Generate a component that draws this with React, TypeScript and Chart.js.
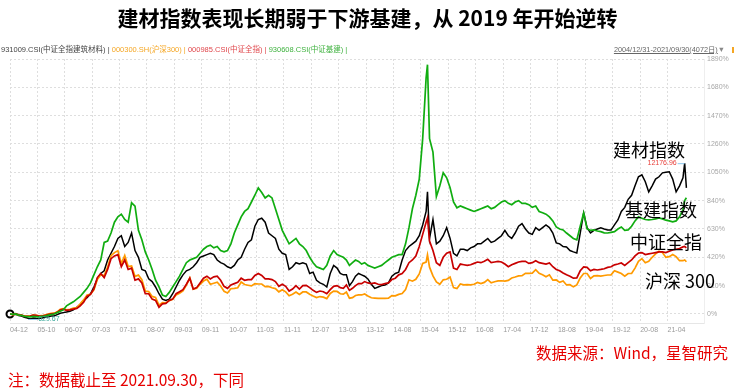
import React, { useEffect, useRef } from "react";
import { Chart, registerables } from "chart.js";
Chart.register(...registerables);

// x-axis tick labels (YY-MM)
const tickLabels = [
  "04-12", "05-10", "06-07", "07-03", "07-11", "08-07", "09-03", "09-11", "10-07",
  "11-03", "11-11", "12-07", "13-03", "13-12", "14-08", "15-04", "15-12", "16-08",
  "17-04", "17-12", "18-08", "19-04", "19-12", "20-08", "21-04",
];
const yTicks = [0, 210, 420, 630, 840, 1050, 1260, 1470, 1680, 1890];

// month-end observations from 2004-12 to 2021-09, plus two intra-month extremes
const firstMonth = "2004-12";
const lastMonth = "2021-09";
const extraDates = ["2015-06-12", "2021-09-15"];

// 931009.CSI 中证全指建筑材料 (cumulative %, base 2004-12-31)
const buildingMaterials = [
  0,
  -5, -3, -12, -15, -25, -30, -37.033, -30, -32, -33, -30, -25,
  -20, -15, -15, -5, 5, 10, 15, 20, 30, 50, 70, 100,
  120, 150, 200, 260, 300, 320, 400, 450, 500, 560, 580, 500,
  530, 600, 470, 420, 330, 320, 260, 240, 200, 150, 110, 100,
  110, 150, 200, 250, 290, 320, 330, 350, 380, 420, 430, 440,
  450, 440, 400, 380, 370, 350, 340, 360, 400, 420, 480, 530,
  550, 650, 700, 710, 680, 600, 580, 560, 480, 450, 440, 330,
  350, 380, 370, 380, 370, 300, 310, 250, 230, 220, 200, 300,
  360, 340, 300, 290, 290, 210, 240, 280, 300, 290, 280, 260,
  220, 190, 200, 210, 215, 230, 280, 300, 310, 400, 470, 500,
  520, 540, 580, 660, 760, 905, 560, 700, 520, 540, 580, 640, 560,
  450, 430, 480, 480, 470, 490, 500, 520, 520, 540, 560, 530,
  540, 560, 580, 620, 580, 560, 600, 650, 670, 630, 600, 590,
  640, 620, 640, 660, 640, 600, 527, 520, 500, 497, 470, 460,
  452, 600, 749, 640, 601, 620, 630, 638, 630, 623, 623, 660,
  697, 760, 790, 850, 880, 950, 1017, 1031, 980, 905, 950, 1000,
  1017, 1046, 1050, 1054, 1000, 905, 950, 1009, 1117.696, 935,
];

// 930608.CSI 中证基建
const infrastructure = [
  0,
  -3, 0, -8, -10, -18, -20, -22, -18, -20, -22, -18, -15,
  -10, -5, 0, 10, 20, 30, 60, 75, 90, 110, 130, 160,
  190, 230, 290, 350, 400, 530, 540, 600, 680, 720, 740, 700,
  680, 824, 800, 620, 550, 460, 400, 330, 250, 200, 140, 130,
  160, 200, 240, 280, 330, 380, 400, 410, 420, 450, 480, 500,
  510, 490, 500, 470, 460, 470, 520, 600, 660, 720, 760, 780,
  830, 880, 935, 900, 860, 880, 860, 780, 700, 620, 570, 520,
  540, 560, 520, 500, 470, 420, 380, 350, 340, 330, 360, 430,
  470, 440, 430, 420, 400, 360, 380, 400, 390, 370, 380, 360,
  350, 340, 350, 360, 380, 400, 420, 430, 440, 440, 520, 640,
  780, 880, 1000, 1300, 1750, 1848, 1300, 1200, 870, 950, 1046, 1009, 935,
  831, 787, 800, 790, 780, 770, 760, 770, 780, 790, 800, 780,
  790, 810, 830, 840, 820, 810, 830, 840, 820, 820, 810, 790,
  800, 760, 750, 740, 720, 690, 645, 630, 623, 600, 580, 560,
  549, 650, 749, 630, 620, 623, 615, 610, 601, 600, 605, 610,
  630, 645, 620, 623, 650, 690, 720, 710, 700, 697, 700, 705,
  712, 705, 695, 690, 683, 690, 720, 772, 840, 861,
];

// 000985.CSI 中证全指
const csiAllShare = [
  0,
  -5, 2, -7, -9, -17, -17, -15, -9, -11, -16, -16, -11,
  -4, 0, 2, 12, 30, 36, 27, 30, 36, 41, 60, 87,
  130, 145, 185, 270, 300, 270, 330, 410, 430, 440, 350, 400,
  330, 340, 250, 260, 230, 150, 150, 110, 100, 50, 75, 78,
  100, 110, 150, 165, 180, 220, 265, 185, 195, 230, 265, 280,
  260, 275, 280, 250, 205, 190, 215, 225, 235, 265, 250, 255,
  255, 285, 300, 285, 260, 260, 255, 240, 205, 220, 205, 170,
  185, 210, 185, 210, 212, 195, 175, 160, 170, 165, 150, 180,
  205, 210, 195, 190, 215, 175, 190, 210, 225, 225, 240, 230,
  225, 230, 220, 218, 225, 230, 255, 265, 290, 300, 330, 380,
  400, 430, 500, 590, 680, 712, 540, 470, 380, 360, 420, 450, 460,
  340, 330, 370, 365, 360, 365, 375, 385, 380, 390, 405, 380,
  385, 390, 385, 370, 350, 365, 375, 385, 390, 390, 375, 380,
  395, 380, 375, 370, 378, 350, 330, 320, 304, 290, 280, 265,
  267, 320, 349, 345, 320, 330, 326, 330, 335, 345, 350, 364,
  370, 378, 360, 380, 400, 430, 452, 455, 440, 445, 450, 455,
  460, 460, 455, 465, 475, 480, 485, 497, 500, 490,
];

// 000300.SH 沪深300
const csi300 = [
  0,
  -7, 0, -9, -8, -16, -16, -15, -9, -10, -14, -13, -8,
  0, 4, 6, 16, 34, 40, 31, 35, 43, 48, 75, 104,
  141, 146, 178, 256, 290, 284, 347, 432, 455, 469, 374, 434,
  351, 355, 279, 288, 254, 170, 166, 130, 123, 65, 84, 82,
  99, 108, 140, 153, 170, 214, 267, 183, 190, 220, 244, 258,
  220, 228, 235, 207, 168, 156, 187, 190, 194, 237, 218, 213,
  208, 224, 222, 222, 203, 204, 194, 188, 164, 180, 164, 135,
  146, 163, 145, 163, 163, 146, 133, 121, 129, 125, 114, 152,
  169, 167, 150, 147, 162, 117, 121, 137, 141, 141, 148, 133,
  120, 118, 115, 116, 116, 117, 136, 134, 145, 151, 181, 253,
  243, 257, 297, 375, 384, 438, 347, 282, 237, 220, 253, 257, 273,
  195, 188, 222, 216, 217, 215, 220, 233, 225, 234, 254, 231,
  239, 245, 246, 244, 249, 267, 274, 282, 284, 301, 301, 303,
  328, 302, 290, 276, 290, 251, 252, 234, 244, 215, 217, 201,
  215, 267, 300, 300, 263, 283, 284, 280, 285, 289, 290, 320,
  310, 300, 280, 300, 300, 340, 390, 410, 380, 390, 420, 445,
  465, 455, 420, 425, 440, 425, 395, 395, 400, 387,
];

function buildDates(): string[] {
  const out: string[] = [];
  let [y, m] = firstMonth.split("-").map(Number);
  for (;;) {
    const key = `${y}-${String(m).padStart(2, "0")}`;
    for (const e of extraDates) if (e.startsWith(key)) out.push(e);
    out.push(key);
    if (key === lastMonth) break;
    m++;
    if (m > 12) { m = 1; y++; }
  }
  return out;
}

function monthPos(d: string): number {
  const p = d.split("-").map(Number);
  const base = (p[0] - 2004) * 12 + (p[1] - 12);
  return p.length > 2 ? base - 1 + p[2] / 30 : base;
}

const tickMonths = tickLabels.map((l, i) => {
  const [yy, mm] = l.split("-").map(Number);
  return i === 0 ? 0 : (2000 + yy - 2004) * 12 + (mm - 12) - 0.5;
});

function toAxis(p: number): number {
  const n = tickMonths.length;
  if (p >= tickMonths[n - 1]) return n - 1 + (p - tickMonths[n - 1]) / 8;
  for (let i = 0; i < n - 1; i++) {
    if (p >= tickMonths[i] && p <= tickMonths[i + 1]) {
      return i + (p - tickMonths[i]) / (tickMonths[i + 1] - tickMonths[i]);
    }
  }
  return 0;
}

const dates = buildDates();
const xs = dates.map((d) => toAxis(monthPos(d)));
const pts = (vals: number[]) => vals.map((v, i) => ({ x: xs[i], y: v }));

const BLACK_LABEL = "931009.CSI(中证全指建筑材料)";

const minMaxPlugin = {
  id: "minmax",
  afterDatasetsDraw(chart: any) {
    const ds = chart.data.datasets.find((d: any) => d.label === BLACK_LABEL);
    if (!ds) return;
    const data = ds.data as { x: number; y: number }[];
    let iMax = 0, iMin = 0;
    data.forEach((p, i) => {
      if (p.y > data[iMax].y) iMax = i;
      if (p.y < data[iMin].y) iMin = i;
    });
    const sx = chart.scales.x, sy = chart.scales.y;
    const ctx = chart.ctx;
    ctx.save();
    ctx.font = "7px 'Liberation Sans', Arial, sans-serif";
    ctx.textBaseline = "middle";
    ctx.lineWidth = 1;
    ctx.strokeStyle = "#8cc8ee";
    let px = sx.getPixelForValue(data[iMax].x), py = sy.getPixelForValue(data[iMax].y);
    ctx.beginPath(); ctx.moveTo(px - 7, py + 0.5); ctx.lineTo(px, py + 0.5); ctx.stroke();
    ctx.fillStyle = "#e8413c"; ctx.textAlign = "right";
    ctx.fillText((1000 + 10 * data[iMax].y).toFixed(2), px - 8, py);
    px = sx.getPixelForValue(data[iMin].x); py = sy.getPixelForValue(data[iMin].y);
    ctx.beginPath(); ctx.moveTo(px - 2, py + 0.5); ctx.lineTo(px + 7, py + 0.5); ctx.stroke();
    ctx.fillStyle = "#3aa89a"; ctx.textAlign = "left";
    ctx.fillText((1000 + 10 * data[iMin].y).toFixed(2), px + 8, py);
    ctx.restore();
  },
};

export default function App() {
  const ref = useRef<HTMLCanvasElement | null>(null);
  useEffect(() => {
    if (!ref.current) return;
    const line = (label: string, vals: number[], color: string, order: number, w = 1.7) => ({
      label, data: pts(vals), borderColor: color, backgroundColor: color, borderWidth: w,
      pointRadius: 0, tension: 0, order,
    });
    const black: any = line(BLACK_LABEL, buildingMaterials, "#000000", 3, 1.5);
    black.pointRadius = (c: any) => (c.dataIndex === 0 ? 3.5 : 0);
    black.pointBorderWidth = 2;
    black.pointBackgroundColor = "#ffffff";
    black.clip = false;
    const chart = new Chart(ref.current, {
      type: "line",
      data: {
        datasets: [
          line("930608.CSI(中证基建)", infrastructure, "#10ad10", 0),
          line("000985.CSI(中证全指)", csiAllShare, "#c80000", 1),
          line("000300.SH(沪深300)", csi300, "#ff9a00", 2),
          black,
        ],
      },
      options: {
        animation: false,
        responsive: false,
        maintainAspectRatio: false,
        layout: { padding: { left: 10, top: 59, right: 0, bottom: 50 } },
        plugins: { legend: { display: false }, tooltip: { enabled: false } },
        scales: {
          x: {
            type: "linear",
            min: 0,
            max: 25.33,
            afterBuildTicks: (s: any) => { s.ticks = tickLabels.map((_, i) => ({ value: i })); },
            afterFit: (s: any) => { s.height = 16; },
            ticks: {
              callback: (v: any) => tickLabels[Math.round(Number(v))] ?? "",
              align: "start",
              maxRotation: 0,
              autoSkip: false,
              color: "#9a9a9a",
              font: { size: 7, family: "'Liberation Sans', Arial, sans-serif" },
              padding: 3,
            },
            grid: { color: "#dedede", drawTicks: false, lineWidth: 1 },
            border: { display: true, color: "#e6e6e6", dash: [2, 2] },
          },
          y: {
            position: "right",
            min: -67,
            max: 1890,
            afterBuildTicks: (s: any) => { s.ticks = yTicks.map((v) => ({ value: v })); },
            afterFit: (s: any) => { s.width = 31; },
            ticks: {
              callback: (v: any) => `${v}%`,
              color: "#a8a8a8",
              font: { size: 7, family: "'Liberation Sans', Arial, sans-serif" },
              padding: 3,
            },
            grid: { color: "#dedede", drawTicks: false, lineWidth: 1 },
            border: { display: true, color: "#eeeeee", dash: [2, 2] },
          },
        },
      },
      plugins: [minMaxPlugin],
    });
    return () => chart.destroy();
  }, []);

  const cjk = "'Noto Sans CJK SC', 'Liberation Sans', sans-serif";
  const small = "'Liberation Sans', 'Noto Sans CJK SC', sans-serif";
  const lab = (text: string, left: number, top: number) => (
    <div style={{ position: "absolute", left, top, fontFamily: cjk, fontSize: 18, lineHeight: "20px", color: "#000", whiteSpace: "nowrap" }}>{text}</div>
  );
  return (
    <div style={{ position: "absolute", left: 0, top: 0, width: 735, height: 389, background: "#fff", overflow: "hidden" }}>
      <canvas ref={ref} width={735} height={389} style={{ position: "absolute", left: 0, top: 0 }} />
      <div style={{ position: "absolute", left: 0, top: 4, width: 735, textAlign: "center", fontFamily: cjk, fontWeight: 700, fontSize: 21, lineHeight: "27px", color: "#000" }}>
        建材指数表现长期弱于下游基建，从 2019 年开始逆转
      </div>
      <div style={{ position: "absolute", left: 1, top: 45, fontFamily: small, fontSize: 7.5, lineHeight: "10px", whiteSpace: "nowrap" }}>
        <span style={{ color: "#444" }}>931009.CSI(中证全指建筑材料) | </span>
        <span style={{ color: "#f5a623" }}>000300.SH(沪深300) | </span>
        <span style={{ color: "#e0474c" }}>000985.CSI(中证全指) | </span>
        <span style={{ color: "#3fb23f" }}>930608.CSI(中证基建) |</span>
      </div>
      <div style={{ position: "absolute", right: 10, top: 45, fontFamily: small, fontSize: 7.3, lineHeight: "10px", color: "#666", whiteSpace: "nowrap" }}>
        <span style={{ textDecoration: "underline" }}>2004/12/31-2021/09/30(4072日)</span>
        <span style={{ color: "#888" }}>▼</span>
      </div>
      <div style={{ position: "absolute", left: 732, top: 47, width: 2, height: 6, background: "#f5a623" }} />
      {lab("建材指数", 613, 139)}
      {lab("基建指数", 625, 199)}
      {lab("中证全指", 630, 231)}
      {lab("沪深 300", 645, 270)}
      <div style={{ position: "absolute", right: 7, top: 343, fontFamily: cjk, fontSize: 15.5, lineHeight: "18px", color: "#e60000", whiteSpace: "nowrap" }}>
        数据来源：Wind，星智研究
      </div>
      <div style={{ position: "absolute", left: 8, top: 370, fontFamily: cjk, fontSize: 15.5, lineHeight: "18px", color: "#e60000", whiteSpace: "nowrap" }}>
        注：数据截止至 2021.09.30，下同
      </div>
    </div>
  );
}
